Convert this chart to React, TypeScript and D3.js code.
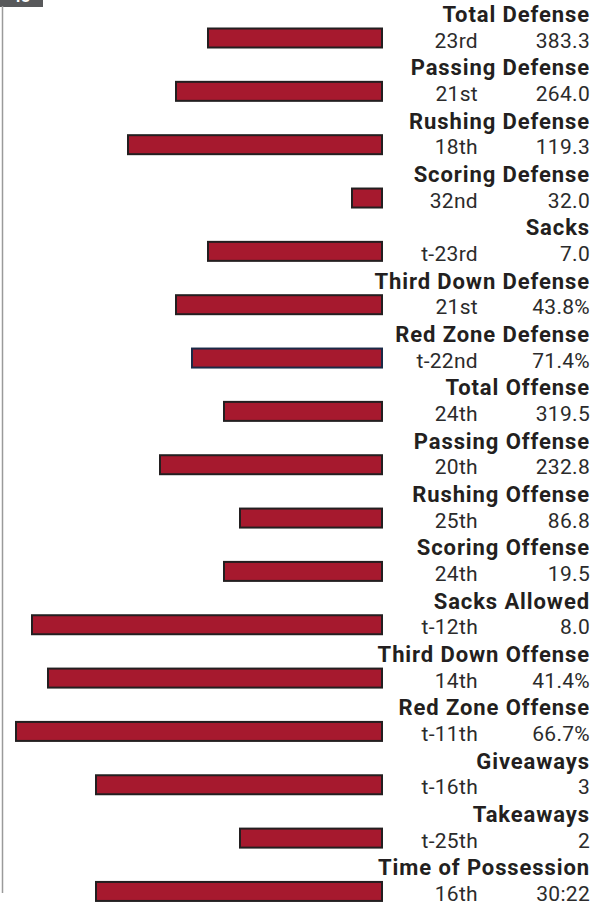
import React from "react";
import * as d3 from "d3";

const categories = [
  "Total Defense",
  "Passing Defense",
  "Rushing Defense",
  "Scoring Defense",
  "Sacks",
  "Third Down Defense",
  "Red Zone Defense",
  "Total Offense",
  "Passing Offense",
  "Rushing Offense",
  "Scoring Offense",
  "Sacks Allowed",
  "Third Down Offense",
  "Red Zone Offense",
  "Giveaways",
  "Takeaways",
  "Time of Possession",
];

// bar length (in rank steps, 32-team league)
const barValues = [11, 13, 16, 2, 11, 13, 12, 10, 14, 9, 10, 22, 21, 23, 18, 9, 18];

const rankLabels = [
  "23rd", "21st", "18th", "32nd", "t-23rd", "21st", "t-22nd", "24th", "20th",
  "25th", "24th", "t-12th", "14th", "t-11th", "t-16th", "t-25th", "16th",
];

const statValues = [
  "383.3", "264.0", "119.3", "32.0", "7.0", "43.8%", "71.4%", "319.5", "232.8",
  "86.8", "19.5", "8.0", "41.4%", "66.7%", "3", "2", "30:22",
];

const pageLabel = "48";

const W = 608;
const H = 909;
const barRight = 383;
const rowH = 53.34;

export default function App() {
  // bars grow leftward from barRight
  const len = d3.scaleLinear().domain([0, 33]).range([0, 33 * 16]);

  const y = d3
    .scaleBand()
    .domain(categories)
    .range([0, rowH * categories.length])
    .padding(0);

  const font = "Roboto, 'DejaVu Sans', sans-serif";

  return (
    <svg
      width={W}
      height={H}
      style={{ position: "absolute", left: 0, top: 0, background: "#fff" }}
    >
      {/* page tab */}
      <rect x={0} y={0} width={43} height={7} fill="#58595b" />
      <text
        x={21}
        y={2}
        textAnchor="middle"
        fill="#fff"
        fontFamily={font}
        fontWeight={700}
        fontSize={16}
      >
        {pageLabel}
      </text>
      <line x1={2.5} x2={2.5} y1={6} y2={893} stroke="#9a9a9a" strokeWidth={1.5} />

      {categories.map((c, i) => {
        const y0 = y(c) as number;
        const w = len(barValues[i]);
        return (
          <g key={c}>
            <rect
              x={barRight - w + 1}
              y={y0 + 28.5}
              width={w - 2}
              height={19}
              fill="#a6192e"
              stroke={c === "Red Zone Defense" ? "#1b2a47" : "#231f20"}
              strokeWidth={2}
            />
            <text
              x={590}
              y={y0 + 22}
              textAnchor="end"
              fontFamily={font}
              fontWeight={700}
              fontSize={22}
              letterSpacing={0.9}
              fill="#231f20"
            >
              {c}
            </text>
            <text
              x={478}
              y={y0 + 47.5}
              textAnchor="end"
              fontFamily={font}
              fontWeight={400}
              fontSize={21}
              letterSpacing={0.3}
              fill="#2b2b2b"
            >
              {rankLabels[i]}
            </text>
            <text
              x={590}
              y={y0 + 47.5}
              textAnchor="end"
              fontFamily={font}
              fontWeight={400}
              fontSize={21}
              letterSpacing={0.3}
              fill="#2b2b2b"
            >
              {statValues[i]}
            </text>
          </g>
        );
      })}
    </svg>
  );
}
